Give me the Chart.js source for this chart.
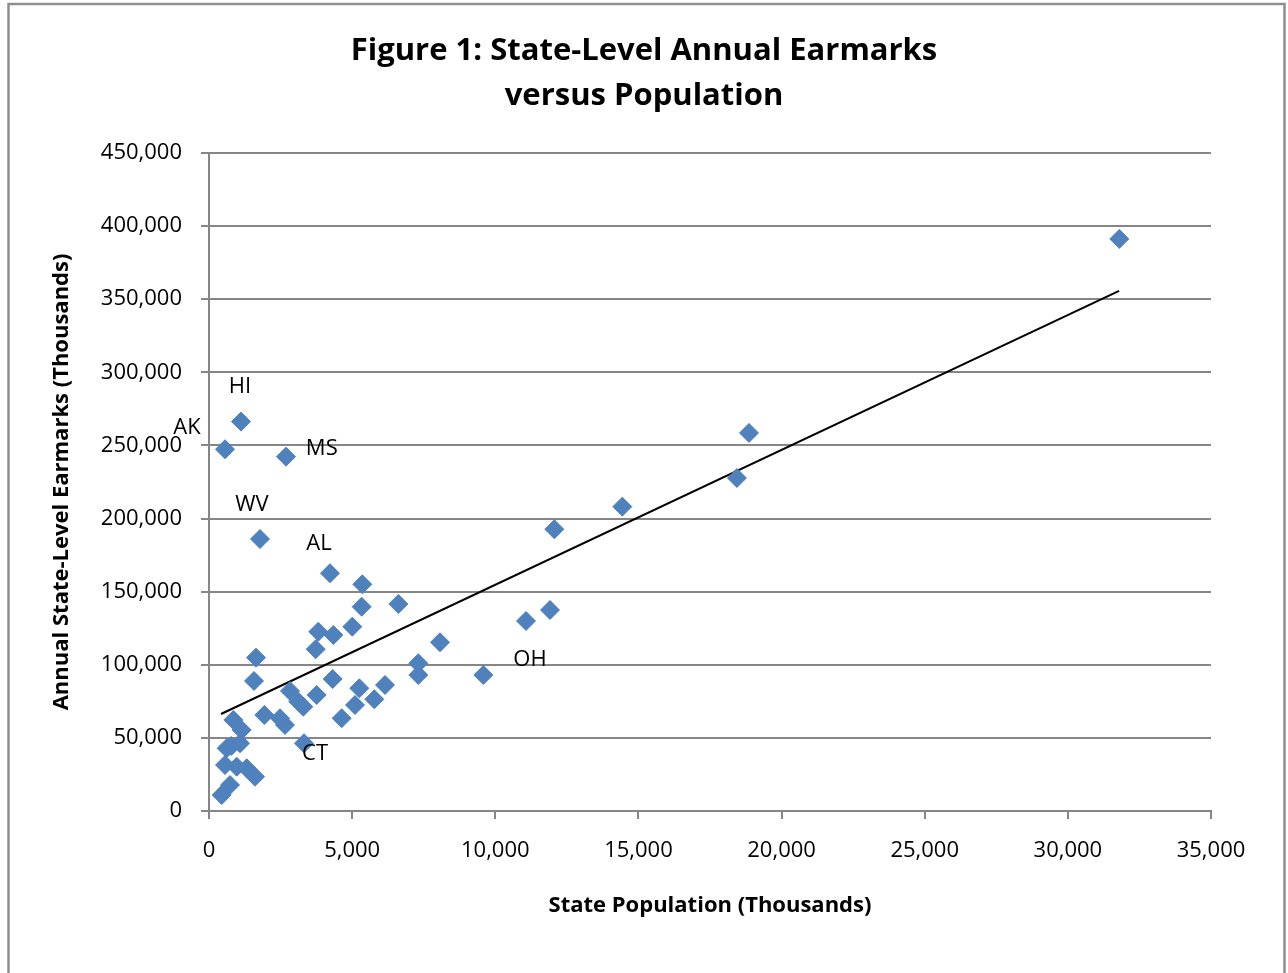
<!DOCTYPE html>
<html>
<head>
<meta charset="utf-8">
<script src="https://cdn.jsdelivr.net/npm/chart.js@4.4.1/dist/chart.umd.min.js"></script>
<style>
  html, body { margin: 0; padding: 0; background: #fff; }
  #wrap { width: 1288px; height: 973px; position: relative; }
</style>
</head>
<body>
<div id="wrap"><canvas id="c" width="1288" height="973"></canvas></div>
<script>
// State population (thousands)
const population = [1118, 559, 2690, 1781, 4226, 5356, 5332, 6614, 5006, 3819,
  4343, 3726, 8069, 1642, 7312, 7312, 1572, 4320, 2829, 3761,
  5251, 6148, 3120, 3295, 5100, 5775, 4634, 1933, 2480, 2655,
  850, 1141, 1083, 617, 3318, 559, 967, 1316, 1607, 733,
  443, 9582, 11073, 11911, 12063, 14437, 18440, 18862, 31797, 780];
// Annual state-level earmarks (thousands)
const earmarks = [266250, 247350, 242300, 186000, 162560, 155000, 139700, 141560, 126050, 122630,
  120370, 110590, 115370, 104860, 101000, 93010, 88900, 90270, 82070, 79330,
  83900, 86170, 74750, 71330, 72490, 76390, 63400, 65650, 63400, 58820,
  62230, 55400, 46300, 42880, 46300, 31460, 30300, 29200, 23460, 17780,
  10940, 93000, 129940, 137460, 192650, 208110, 227700, 258515, 391190, 44500];
// Linear trendline end points
const trendX = [419, 31790];
const trendY = [66340, 355630];
// Point annotations
const labelText = ['HI', 'AK', 'MS', 'WV', 'AL', 'OH', 'CT'];
const labelX = [1083, -768, 3940, 1502, 3842, 11212, 3703];
const labelY = [289970, 261930, 247570, 209270, 182600, 103270, 38980];
// Axis ticks
const xTickStep = 5000, xMin = 0, xMax = 35000;
const yTickStep = 50000, yMin = 0, yMax = 450000;

const GRID = '#868686';
const fmt = v => Number(v).toLocaleString('en-US');

const frame = {
  id: 'frame',
  beforeDraw(chart) {
    const c = chart.ctx;
    c.save();
    c.fillStyle = '#fff';
    c.fillRect(0, 0, chart.width, chart.height);
    c.strokeStyle = '#8e8e8e';
    c.lineWidth = 2.5;
    c.strokeRect(8.5, 4, 1276, 1100);
    c.restore();
  }
};

const pointLabels = {
  id: 'pointLabels',
  afterDatasetsDraw(chart) {
    const c = chart.ctx, xs = chart.scales.x, ys = chart.scales.y;
    c.save();
    c.font = '22px "Open Sans"';
    c.fillStyle = '#000';
    c.textAlign = 'center';
    c.textBaseline = 'middle';
    labelText.forEach((t, i) => {
      c.fillText(t, xs.getPixelForValue(labelX[i]), ys.getPixelForValue(labelY[i]));
    });
    c.restore();
  }
};

new Chart(document.getElementById('c'), {
  type: 'scatter',
  data: {
    datasets: [
      {
        label: 'States',
        data: population.map((x, i) => ({ x, y: earmarks[i] })),
        pointStyle: 'rectRot',
        pointRadius: 9.5,
        pointHoverRadius: 9.5,
        backgroundColor: '#4F81BD',
        borderColor: '#4F81BD',
        borderWidth: 1
      },
      {
        label: 'Trend',
        type: 'line',
        data: trendX.map((x, i) => ({ x, y: trendY[i] })),
        borderColor: '#000',
        borderWidth: 2,
        pointRadius: 0,
        fill: false
      }
    ]
  },
  options: {
    responsive: false,
    animation: false,
    events: [],
    layout: { padding: { left: 0, right: 0, top: 0, bottom: 0 } },
    plugins: {
      legend: { display: false },
      tooltip: { enabled: false },
      title: {
        display: true,
        text: ['Figure 1: State-Level Annual Earmarks', 'versus Population'],
        color: '#000',
        font: { family: 'Open Sans', size: 31, weight: 'bold', lineHeight: 1.45 },
        padding: { top: 29, bottom: 34 }
      }
    },
    scales: {
      x: {
        type: 'linear',
        min: xMin, max: xMax,
        afterFit: s => { s.height = 162; },
        ticks: { stepSize: xTickStep, color: '#000', padding: 19, maxRotation: 0,
                 font: { family: 'Open Sans', size: 22 }, callback: v => fmt(v) },
        grid: { drawOnChartArea: false, drawTicks: true, tickLength: 8, color: GRID, lineWidth: 2 },
        border: { color: GRID, width: 2 },
        title: { display: true, text: 'State Population (Thousands)', color: '#000',
                 font: { family: 'Open Sans', size: 22, weight: 'bold', lineHeight: 1.2 },
                 padding: { top: 0, bottom: 54 } }
      },
      y: {
        type: 'linear',
        min: yMin, max: yMax,
        afterFit: s => { s.width = 209; },
        ticks: { stepSize: yTickStep, color: '#000', padding: 19,
                 font: { family: 'Open Sans', size: 22 }, callback: v => fmt(v) },
        grid: { drawTicks: true, tickLength: 8, color: GRID, lineWidth: 2 },
        border: { color: GRID, width: 2 },
        title: { display: true, text: 'Annual State-Level Earmarks (Thousands)', color: '#000',
                 font: { family: 'Open Sans', size: 22, weight: 'bold', lineHeight: 1.2 },
                 padding: { top: 49, bottom: 0 } }
      },
      spacer: {
        type: 'linear',
        position: 'right',
        min: yMin, max: yMax,
        afterFit: s => { s.width = 77; },
        ticks: { display: false },
        grid: { display: false, drawTicks: false },
        border: { display: false }
      }
    }
  },
  plugins: [frame, pointLabels]
});
</script>
</body>
</html>
